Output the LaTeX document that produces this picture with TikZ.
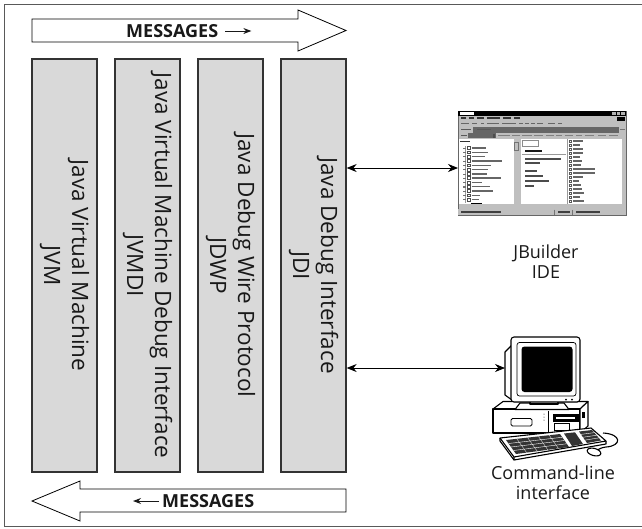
\documentclass[tikz,border=0pt]{standalone}
\usepackage{fontspec}
\setmainfont{Open Sans}
\usetikzlibrary{arrows.meta, calc}

\begin{document}
\begin{tikzpicture}[x=1pt, y=-1pt,
  layer/.style={draw=black!80, line width=1.3pt, fill=black!15,
    minimum width=65pt, minimum height=413pt, inner sep=0pt},
  layertext/.style={rotate=-90, align=center, inner sep=0pt,
    font=\fontsize{22.5}{28}\selectfont, text=black!90},
  bigarrow/.style={draw=black, line width=0.8pt, fill=white},
  msgtext/.style={font=\bfseries\fontsize{18}{19}\selectfont, inner sep=0pt, text=black!90},
  msgtip/.style={-{Stealth[length=8pt,width=6pt]}, line width=1pt, black!90},
  link/.style={{Stealth[length=10pt,width=8pt]}-{Stealth[length=10pt,width=8pt]},
    line width=0.8pt},
  caption/.style={align=center, inner sep=0pt, font=\fontsize{18}{20}\selectfont, text=black!90},
  shot/.style={inner sep=0pt, minimum width=168pt, minimum height=104pt},
  pcline/.style={draw=black, line width=1.1pt, line join=round}
]
\useasboundingbox (0,0) rectangle (642,528);

% outer frame
\draw[black!65, line width=1.2pt] (4.5,4.5) rectangle (646,526.5);

% message flow arrows
\draw[bigarrow] (32,19) -- (298,19) -- (298,10) -- (346,30.5) -- (298,51)
  -- (298,42) -- (32,42) -- cycle;
\node[msgtext, anchor=west] (msgout) at (126,31) {MESSAGES};
\draw[msgtip] ($(msgout.east)+(7,0)$) -- ++(26,0);
\draw[bigarrow] (346,489) -- (80,489) -- (80,481) -- (32,501) -- (80,521)
  -- (80,512) -- (346,512) -- cycle;
\node[msgtext, anchor=west] (msgin) at (162,501) {MESSAGES};
\draw[msgtip] ($(msgin.west)+(-3,0)$) -- ++(-26,0);

% the four layers
\node[layer] (jvm)   at (64.5,265.5)  {};
\node[layer] (jvmdi) at (147.5,265.5) {};
\node[layer] (jdwp)  at (230.5,265.5) {};
\node[layer] (jdi)   at (313.5,265.5) {};
\node[layertext] (jvm-t)   at (jvm)   {Java Virtual Machine\\JVM};
\node[layertext] (jvmdi-t) at (jvmdi) {Java Virtual Machine Debug Interface\\JVMDI};
\node[layertext] (jdwp-t)  at (jdwp)  {Java Debug Wire Protocol\\JDWP};
\node[layertext] (jdi-t)   at (jdi)   {Java Debug Interface\\JDI};

% ---------- IDE window ----------
\node[shot] (ide) at (542,163) {};
\fill[black!25] (458,111) rectangle (626,215);
\draw[black!60, line width=0.5pt] (458,111) rectangle (626,215);
% title bar
\fill[black] (458,111) rectangle (626,115.5);
\fill[white] (460,112) rectangle (474,114.5);
\foreach \bx in {612,616.5,621}
  \fill[black!30] (\bx,112) rectangle ++(3.5,2.8);
% menu bar
\foreach \mx/\ml in {461/5,469/5,477/7,487/13,503/8,514/6}
  \draw[black!80, line width=1.2pt] (\mx,118) -- ++(\ml,0);
\fill[black] (617,116.5) rectangle (625,121);
% toolbar
\foreach \tx/\tl in {461/8,472/5,481/3,487/12,502/14,519/4,525/4,531/4,537/6,548/7,558/4}
  \draw[black!60, line width=1.2pt] (\tx,123.5) -- ++(\tl,0);
% address bar
\draw[black!65, line width=1pt] (461,129.5) -- ++(10,0);
\draw[fill=white, black!60, line width=0.4pt] (473,127.3) rectangle (614,131.8);
\draw[black!65, line width=1pt] (477,129.5) -- ++(14,0);
\draw[fill=white, black!60, line width=0.4pt] (615,127.3) rectangle (618,131.8);
\draw[black!55, line width=1pt] (620,129.5) -- ++(5,0);
% search toolbar
\draw[black!65, line width=1pt] (461,135.5) -- ++(6,0);
\draw[fill=white, black!60, line width=0.4pt] (468,133.5) rectangle (495,137.5);
\fill[black!70] (493,133.5) rectangle (495,137.5);
\foreach \sx/\sl in {498/12,512/8,522/10,534/9,546/8,556/6,565/8,576/6,585/9,598/8,609/9}
  \draw[black!50, line width=1.1pt] (\sx,135.5) -- ++(\sl,0);
% folders pane
\fill[white] (458.5,139) rectangle (518,205);
\draw[black!80, line width=1.3pt] (460,141.5) -- ++(10,0);
\draw[black!40, line width=0.4pt] (465,146) -- (465,203);
\foreach \ly/\ll in {148/14,152.3/16,156.6/13,160.9/30,165.2/19,169.5/16,
    173.8/15,178.1/29,182.4/10,186.7/18,191/21,195.3/8,199.6/7}
{
  \draw[black!55, line width=0.5pt] (463,\ly) rectangle ++(2,0.1);
  \draw[black!70, line width=0.5pt] (467,\ly-1.4) rectangle ++(2.8,2.8);
  \draw[black!60, line width=1.4pt] (471.5,\ly) -- ++(\ll,0);
}
\fill[black] (471,202.5) rectangle (482,205);
\fill[black!25] (514,139) rectangle (518,205);
\draw[black!55, line width=0.3pt] (514,142) rectangle (518,150);
% contents pane
\fill[white] (521,139) rectangle (626,205);
\draw[black!45, line width=0.4pt] (522,140) rectangle (538,146.5);
\draw[black!90, line width=1.8pt] (525,151) -- ++(17,0);
\draw[black!40, line width=0.4pt] (522,154) -- (566,154);
\foreach \cy/\cl in {159/36,163/15,171/12,176/18,181/24,186/9}
  \draw[black!70, line width=1.4pt] (525,\cy) -- ++(\cl,0);
\draw[black!40, line width=0.4pt] (567,139) -- (567,205);
\foreach \fy/\fl in {141/10,145/7,149/10,153/10,157/7,161/9,165/8,169/22,173/22,177/10,
    181/6,185/8,189/9,193/11,197/7,201/11}
{
  \draw[black!65, line width=0.4pt] (569,\fy-1.3) rectangle ++(2.6,2.6);
  \draw[black!60, line width=1.3pt] (573,\fy) -- ++(\fl,0);
}
% scroll bars and status bar
\fill[black!25] (458.5,204) rectangle (626,208);
\fill[black!25] (622,139) rectangle (626,205);
\fill[black!25] (458,209) rectangle (626,215);
\foreach \zx/\zl in {461/40,558/12,576/24}
  \draw[black!75, line width=1.2pt] (\zx,212) -- ++(\zl,0);
\draw[black!55, line width=0.4pt] (554,209.5) -- (554,214.5) (572,209.5) -- (572,214.5);
\coordinate (ide-port) at (458,168);

% ---------- desktop computer ----------
% system unit
\draw[pcline, fill=white] (493,409) -- (503,401.5) -- (588,401.5) -- (580,409) -- cycle;
\draw[pcline, fill=white] (493,409) rectangle (580,433);
\draw[pcline, fill=white] (580,409) -- (588,401.5) -- (588,426) -- (580,433) -- cycle;
\draw[black, line width=0.8pt, rounded corners=1.5pt] (511,418.5) rectangle (532,426);
\draw[black, line width=0.5pt] (548,411) -- (548,432);
\draw[black, line width=0.8pt, fill=black] (553,414.5) rectangle (578,421);
\fill[white] (556,416.5) rectangle (575,419);
\draw[black, line width=0.8pt] (554,423) rectangle (569,430.5);
\fill[black] (582,412) rectangle (584.5,418);
\fill[black] (544,414) circle (0.5) (544,417) circle (0.5) (544,420) circle (0.5);
% monitor stand
\draw[pcline, fill=white] (520,403) -- (564,403) -- (569,409.5) -- (515,409.5) -- cycle;
\draw[pcline, fill=white] (530,398) rectangle (558,404);
% monitor housing
\draw[pcline, fill=white] (512,345) -- (505,352) -- (505,395) -- (512,400) -- cycle;
\node[pcline, fill=white, rounded corners=3pt, inner sep=0pt,
  minimum width=69pt, minimum height=65pt] (monitor) at (545.5,369.5) {};
\draw[black, line width=0.7pt, rounded corners=2.5pt] (517,342.5) rectangle (576,396);
\fill[black, rounded corners=3pt] (521.5,346.5) rectangle (572.5,392);
\fill[black] (566,399.5) circle (1) (572,399.5) circle (1);
\coordinate (pc-port) at (505,368);
% keyboard
\draw[pcline, fill=white] (500,438) -- (591,428) -- (606,441) -- (514,457) -- cycle;
\draw[pcline] (514,457) -- (514,460) -- (606,444) -- (606,441);
\draw[pcline] (500,438) -- (500,441) -- (514,460);
\fill[black!80] (506,440) -- (560,434) -- (569,447) -- (516,454) -- cycle;
\fill[black!80] (564,433.5) -- (575,432.3) -- (583,444) -- (572,446) -- cycle;
\fill[black!80] (579,431.5) -- (592,430) -- (601,440.5) -- (587,443) -- cycle;
\foreach \t in {0.25,0.5,0.75}
{
  \draw[white, line width=0.4pt] ($(506,440)!\t!(516,454)$) -- ($(560,434)!\t!(569,447)$);
  \draw[white, line width=0.4pt] ($(579,431.5)!\t!(587,443)$) -- ($(592,430)!\t!(601,440.5)$);
}
\foreach \t in {0.2,0.4,0.6,0.8}
  \draw[white, line width=0.3pt] ($(506,440)!\t!(560,434)$) -- ($(516,454)!\t!(569,447)$);
% mouse and cable
\draw[pcline] (603,433) .. controls (622,434) and (622,446) .. (606,447)
  .. controls (598,448) and (598,451) .. (594,451);
\draw[pcline, fill=white, rotate around={-15:(594,452)}] (594,452) ellipse (7 and 3.6);

% links between the debugger front ends and JDI
\draw[link] (jdi.east |- ide-port) -- (ide-port);
\draw[link] (jdi.east |- pc-port) -- (pc-port);

% captions
\node[caption] (ide-caption) at (546,262) {JBuilder\\IDE};
\node[caption] (cli-caption) at (553,483) {Command-line\\interface};
\end{tikzpicture}
\end{document}
